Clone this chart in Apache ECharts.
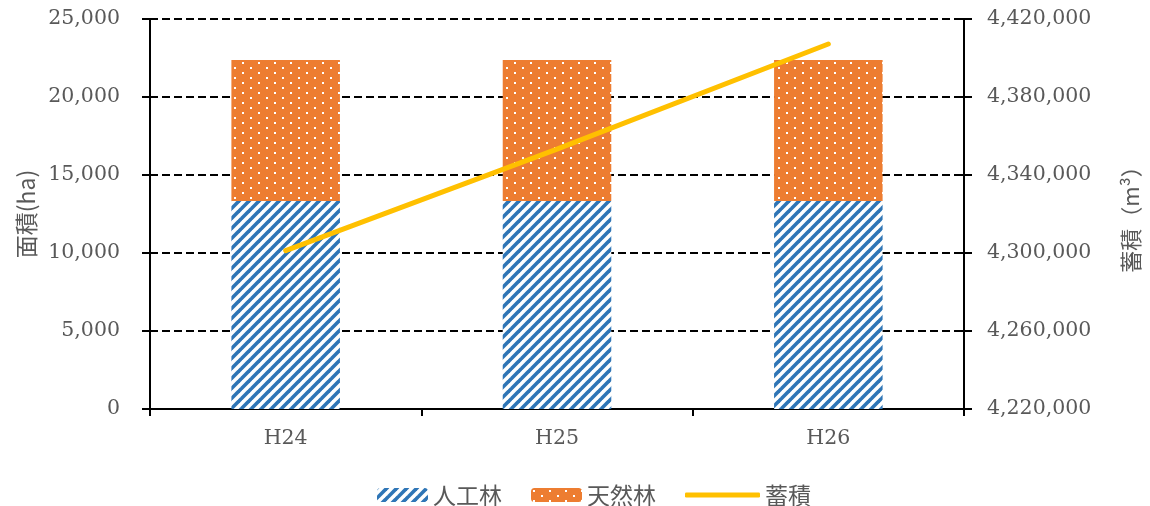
<!DOCTYPE html>
<html>
<head>
<meta charset="utf-8">
<script src="https://cdn.jsdelivr.net/npm/echarts@6/dist/echarts.min.js"></script>
<style>
html,body{margin:0;padding:0;background:#fff;}
#main{width:1150px;height:506px;}
</style>
</head>
<body>
<div id="main"></div>
<script>
// ---- data ----
const categories = ['H24', 'H25', 'H26'];
const plantedArea = [13330, 13330, 13330];      // 人工林 (ha)
const naturalArea = [9040, 9040, 9040];         // 天然林 (ha)
const stockVolume = [4301200, 4353300, 4407200]; // 蓄積 (m3)
const seriesNames = ['人工林', '天然林', '蓄積'];
const areaAxisTicks = { min: 0, max: 25000, interval: 5000 };
const volumeAxisTicks = { min: 4220000, max: 4420000, interval: 40000 };

// ---- patterns ----
function stripePattern() {
  const s = 10;
  const c = document.createElement('canvas');
  c.width = s; c.height = s;
  const g = c.getContext('2d');
  g.fillStyle = '#ffffff'; g.fillRect(0, 0, s, s);
  g.strokeStyle = '#2E75B6'; g.lineWidth = 3.6;
  for (const o of [-s, 0, s]) {
    g.beginPath(); g.moveTo(o - 1, s + 1); g.lineTo(o + s + 1, -1); g.stroke();
  }
  return c;
}
function dotPattern() {
  const c = document.createElement('canvas');
  c.width = 16; c.height = 10;
  const g = c.getContext('2d');
  g.fillStyle = '#ED7D31'; g.fillRect(0, 0, 16, 10);
  g.fillStyle = '#ffffff';
  g.fillRect(2, 2, 2, 2);
  g.fillRect(10, 7, 2, 2);
  return c;
}
const stripe = { image: stripePattern(), repeat: 'repeat' };
const dots = { image: dotPattern(), repeat: 'repeat' };

const labelColor = '#595959';
const serif = 'DejaVu Serif';
const sans = '"Noto Sans CJK JP", "Noto Sans", sans-serif';
const fmt = v => v.toLocaleString('en-US');

const chart = echarts.init(document.getElementById('main'), null, { renderer: 'canvas' });
chart.setOption({
  animation: false,
  backgroundColor: '#ffffff',
  grid: { left: 150, right: 184, top: 19, bottom: 97, containLabel: false },
  legend: [{
    data: [seriesNames[0], seriesNames[1]],
    left: 372, top: 478,
    itemWidth: 51, itemHeight: 14, itemGap: 29,
    textStyle: { color: labelColor, fontSize: 23, fontFamily: sans, lineHeight: 24 }
  }, {
    data: [{ name: seriesNames[2], icon: 'roundRect' }],
    left: 680, top: 478,
    itemWidth: 75, itemHeight: 5,
    textStyle: { color: labelColor, fontSize: 23, fontFamily: sans, lineHeight: 24 }
  }],
  xAxis: {
    type: 'category',
    data: categories,
    axisLine: { lineStyle: { color: '#000', width: 2 } },
    axisTick: { show: true, length: 7, lineStyle: { color: '#000', width: 2 } },
    axisLabel: { color: labelColor, fontSize: 20.5, fontFamily: serif, margin: 19 }
  },
  yAxis: [{
    type: 'value', position: 'left',
    min: areaAxisTicks.min, max: areaAxisTicks.max, interval: areaAxisTicks.interval,
    name: '面積(ha)', nameLocation: 'middle', nameGap: 112, nameRotate: 90,
    nameTextStyle: { color: labelColor, fontSize: 23, fontFamily: sans },
    axisLine: { show: true, lineStyle: { color: '#000', width: 2 } },
    axisTick: { show: true, length: 8, lineStyle: { color: '#000', width: 2 } },
    axisLabel: { color: labelColor, fontSize: 20.5, fontFamily: serif, margin: 30, formatter: fmt },
    splitLine: { show: true, lineStyle: { color: '#000', width: 1.8, type: [8, 4] } }
  }, {
    type: 'value', position: 'right',
    min: volumeAxisTicks.min, max: volumeAxisTicks.max, interval: volumeAxisTicks.interval,
    name: '蓄積（m³）', nameLocation: 'middle', nameGap: 156, nameRotate: 90,
    nameTextStyle: { color: labelColor, fontSize: 22, fontFamily: sans },
    axisLine: { show: true, lineStyle: { color: '#000', width: 2 } },
    axisTick: { show: true, length: 8, lineStyle: { color: '#000', width: 2 } },
    axisLabel: { color: labelColor, fontSize: 20.5, fontFamily: serif, margin: 23, formatter: fmt },
    splitLine: { show: false }
  }, {
    type: 'value', position: 'left',
    min: areaAxisTicks.min, max: areaAxisTicks.max, interval: areaAxisTicks.interval,
    axisLine: { show: false },
    axisTick: { show: true, inside: true, length: 7, lineStyle: { color: '#000', width: 2 } },
    axisLabel: { show: false }, splitLine: { show: false }
  }, {
    type: 'value', position: 'right',
    min: volumeAxisTicks.min, max: volumeAxisTicks.max, interval: volumeAxisTicks.interval,
    axisLine: { show: false },
    axisTick: { show: true, inside: true, length: 7, lineStyle: { color: '#000', width: 2 } },
    axisLabel: { show: false }, splitLine: { show: false }
  }],
  series: [{
    name: seriesNames[0], type: 'bar', stack: 'area', yAxisIndex: 0,
    data: plantedArea, barWidth: '40%',
    itemStyle: { color: stripe }
  }, {
    name: seriesNames[1], type: 'bar', stack: 'area', yAxisIndex: 0,
    data: naturalArea, barWidth: '40%',
    itemStyle: { color: dots }
  }, {
    name: seriesNames[2], type: 'line', yAxisIndex: 1,
    data: stockVolume, showSymbol: false, symbol: 'none', z: 5,
    lineStyle: { color: '#FFC000', width: 5, cap: 'round' },
    itemStyle: { color: '#FFC000' }
  }]
});
</script>
</body>
</html>
